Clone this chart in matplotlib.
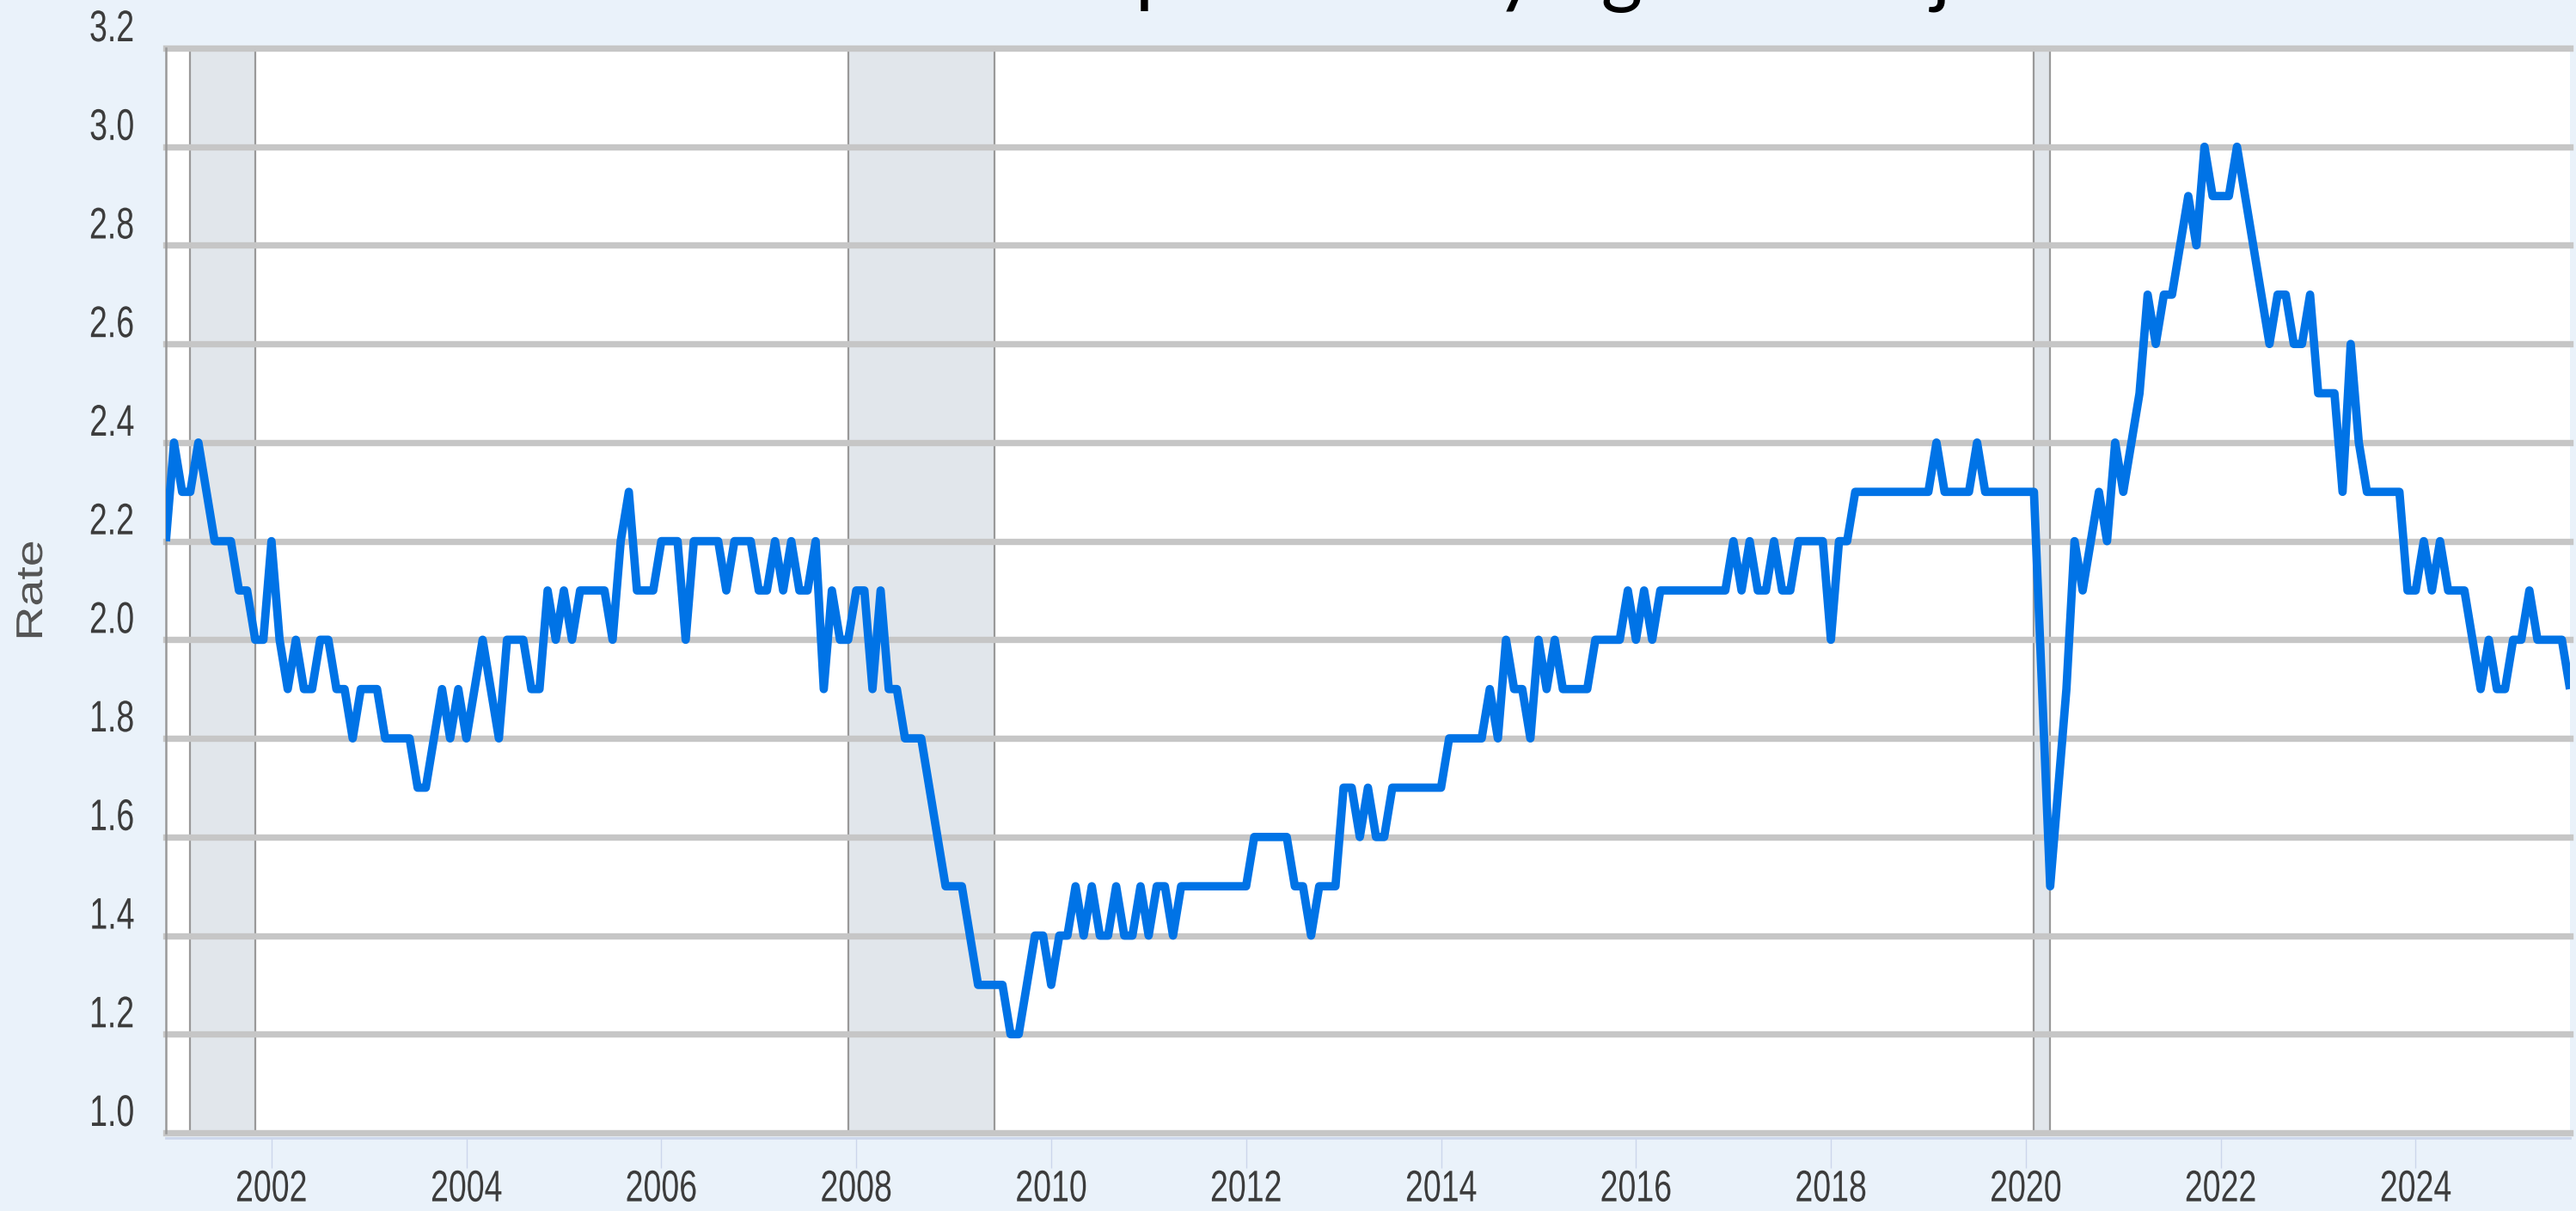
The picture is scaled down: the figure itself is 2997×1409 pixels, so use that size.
import numpy as np
import matplotlib.pyplot as plt
from matplotlib.transforms import ScaledTranslation, Affine2D
from matplotlib.patheffects import AbstractPathEffect

# Quits rate (total nonfarm), monthly, first value is Dec 2000, last is Aug 2025
first_year, first_month = 2000, 12
quits_rate = [
    2.2,
    2.4, 2.3, 2.3, 2.4, 2.3, 2.2, 2.2, 2.2, 2.1, 2.1, 2.0, 2.0,  # 2001
    2.2, 2.0, 1.9, 2.0, 1.9, 1.9, 2.0, 2.0, 1.9, 1.9, 1.8, 1.9,  # 2002
    1.9, 1.9, 1.8, 1.8, 1.8, 1.8, 1.7, 1.7, 1.8, 1.9, 1.8, 1.9,  # 2003
    1.8, 1.9, 2.0, 1.9, 1.8, 2.0, 2.0, 2.0, 1.9, 1.9, 2.1, 2.0,  # 2004
    2.1, 2.0, 2.1, 2.1, 2.1, 2.1, 2.0, 2.2, 2.3, 2.1, 2.1, 2.1,  # 2005
    2.2, 2.2, 2.2, 2.0, 2.2, 2.2, 2.2, 2.2, 2.1, 2.2, 2.2, 2.2,  # 2006
    2.1, 2.1, 2.2, 2.1, 2.2, 2.1, 2.1, 2.2, 1.9, 2.1, 2.0, 2.0,  # 2007
    2.1, 2.1, 1.9, 2.1, 1.9, 1.9, 1.8, 1.8, 1.8, 1.7, 1.6, 1.5,  # 2008
    1.5, 1.5, 1.4, 1.3, 1.3, 1.3, 1.3, 1.2, 1.2, 1.3, 1.4, 1.4,  # 2009
    1.3, 1.4, 1.4, 1.5, 1.4, 1.5, 1.4, 1.4, 1.5, 1.4, 1.4, 1.5,  # 2010
    1.4, 1.5, 1.5, 1.4, 1.5, 1.5, 1.5, 1.5, 1.5, 1.5, 1.5, 1.5,  # 2011
    1.5, 1.6, 1.6, 1.6, 1.6, 1.6, 1.5, 1.5, 1.4, 1.5, 1.5, 1.5,  # 2012
    1.7, 1.7, 1.6, 1.7, 1.6, 1.6, 1.7, 1.7, 1.7, 1.7, 1.7, 1.7,  # 2013
    1.7, 1.8, 1.8, 1.8, 1.8, 1.8, 1.9, 1.8, 2.0, 1.9, 1.9, 1.8,  # 2014
    2.0, 1.9, 2.0, 1.9, 1.9, 1.9, 1.9, 2.0, 2.0, 2.0, 2.0, 2.1,  # 2015
    2.0, 2.1, 2.0, 2.1, 2.1, 2.1, 2.1, 2.1, 2.1, 2.1, 2.1, 2.1,  # 2016
    2.2, 2.1, 2.2, 2.1, 2.1, 2.2, 2.1, 2.1, 2.2, 2.2, 2.2, 2.2,  # 2017
    2.0, 2.2, 2.2, 2.3, 2.3, 2.3, 2.3, 2.3, 2.3, 2.3, 2.3, 2.3,  # 2018
    2.3, 2.4, 2.3, 2.3, 2.3, 2.3, 2.4, 2.3, 2.3, 2.3, 2.3, 2.3,  # 2019
    2.3, 2.3, 1.9, 1.5, 1.7, 1.9, 2.2, 2.1, 2.2, 2.3, 2.2, 2.4,  # 2020
    2.3, 2.4, 2.5, 2.7, 2.6, 2.7, 2.7, 2.8, 2.9, 2.8, 3.0, 2.9,  # 2021
    2.9, 2.9, 3.0, 2.9, 2.8, 2.7, 2.6, 2.7, 2.7, 2.6, 2.6, 2.7,  # 2022
    2.5, 2.5, 2.5, 2.3, 2.6, 2.4, 2.3, 2.3, 2.3, 2.3, 2.3, 2.1,  # 2023
    2.1, 2.2, 2.1, 2.2, 2.1, 2.1, 2.1, 2.0, 1.9, 2.0, 1.9, 1.9,  # 2024
    2.0, 2.0, 2.1, 2.0, 2.0, 2.0, 2.0, 1.9,                      # 2025
]

# recessions (year, month) start / end
rec_start = [(2001, 3), (2007, 12), (2020, 2)]
rec_end = [(2001, 11), (2009, 6), (2020, 4)]

xticks = list(range(2002, 2025, 2))
yticks = [1.0, 1.2, 1.4, 1.6, 1.8, 2.0, 2.2, 2.4, 2.6, 2.8, 3.0, 3.2]
ytick_labels = ['%.1f' % v for v in yticks]

title = 'People are staying in their jobs'


def ym(year, month):
    return year + (month - 1) / 12


class Squeeze(AbstractPathEffect):
    # the source screenshot is squashed sideways, so squash the glyphs too
    def __init__(self, sx=1.0, sy=1.0, anchor='center'):
        super().__init__()
        self.sx, self.sy, self.anchor = sx, sy, anchor

    def draw_path(self, renderer, gc, tpath, affine, rgbFace=None):
        ext = tpath.get_extents()
        px = {'center': (ext.x0 + ext.x1) / 2, 'right': ext.x1, 'left': ext.x0}[self.anchor]
        py = (ext.y0 + ext.y1) / 2
        sq = Affine2D().translate(-px, -py).scale(self.sx, self.sy).translate(px, py)
        renderer.draw_path(gc, tpath, sq + affine, rgbFace)


t = ym(first_year, first_month) + np.arange(len(quits_rate)) / 12

plt.rcParams['font.family'] = ['Liberation Sans', 'DejaVu Sans']

W, H = 2997, 1409
fig = plt.figure(figsize=(W / 100, H / 100), dpi=100, facecolor='#eaf2fa')
ax = fig.add_axes([193 / W, 1 - 1318 / H, (2990 - 193) / W, (1318 - 56) / H])
ax.set_facecolor('white')
ax.set_xlim(t[0], t[-1])
ax.set_ylim(yticks[0], yticks[-1])

for s, e in zip(rec_start, rec_end):
    ax.axvspan(ym(*s), ym(*e), facecolor='#e1e6eb', edgecolor='#999999', lw=1.6, zorder=1)

for v in yticks:
    ax.axhline(v, color='#c6c6c6', lw=5.3, zorder=1.5, clip_on=False)

ax.plot(t, quits_rate, color='#0073e6', lw=7, zorder=3,
        solid_joinstyle='round', solid_capstyle='butt')

for side in ['top', 'right']:
    ax.spines[side].set_visible(False)
ax.spines['left'].set_color('#999999')
ax.spines['left'].set_linewidth(1.8)
ax.spines['bottom'].set_color('#ccd6eb')
ax.spines['bottom'].set_linewidth(2)
ax.spines['bottom'].set_position(('outward', 4))

ax.set_xticks(xticks)
ax.set_yticks(yticks, labels=ytick_labels)
ax.tick_params(axis='x', length=25, width=1, color='#ccd6eb', pad=1,
               labelsize=37, labelcolor='#3c3c3c')
ax.tick_params(axis='y', length=0, pad=26, labelsize=37, labelcolor='#3c3c3c')

for lab in ax.get_xticklabels():
    lab.set_path_effects([Squeeze(0.73, 1.0, 'center')])

# y labels sit just above their grid line
shift = ScaledTranslation(0, 8 / 100, fig.dpi_scale_trans)
for lab in ax.get_yticklabels():
    lab.set_verticalalignment('baseline')
    lab.set_transform(lab.get_transform() + shift)
    lab.set_path_effects([Squeeze(0.73, 1.0, 'right')])

ylab = ax.set_ylabel('Rate', fontsize=40, color='#555555', va='center')
ylab.set_path_effects([Squeeze(1.0, 0.78, 'center')])
ax.yaxis.set_label_coords(-0.055, 0.5)

# title mostly cut off at the top edge, only descenders show
fig.text(1163 / W, 1 + 3 / H, title, family='Lato', fontsize=67,
         ha='left', va='baseline', color='black')

fig.savefig('out.png', dpi=100, facecolor=fig.get_facecolor())
